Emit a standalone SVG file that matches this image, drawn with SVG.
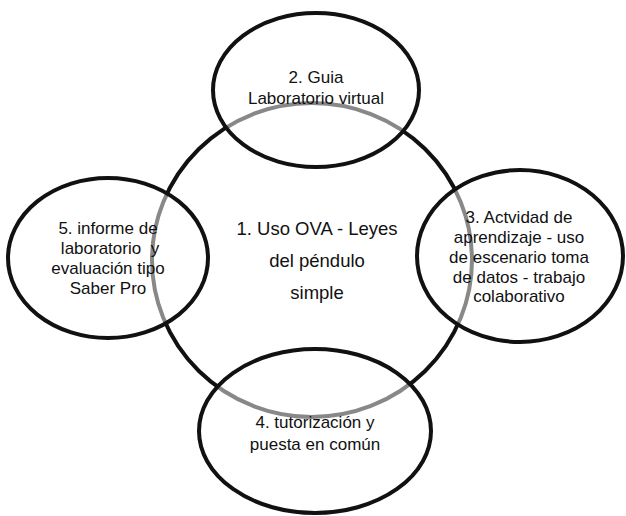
<svg xmlns="http://www.w3.org/2000/svg" width="626" height="516" viewBox="0 0 626 516">
<style>
.ring{fill:none;stroke:#111;stroke-width:4}
.ov{fill:#fff;fill-opacity:0.5;stroke:#111;stroke-width:4}
text{font-family:"Liberation Sans",Arial,sans-serif;font-size:17px;fill:#111;text-anchor:middle}
.big{font-size:18.5px}
</style>
<rect width="626" height="516" fill="#fff"/>
<g id="connectors"></g>
<g id="n1">
<ellipse class="ring" cx="312" cy="260" rx="160" ry="157"/>
</g>
<g id="n2">
<ellipse class="ov" cx="316" cy="90" rx="103" ry="77"/>
<text x="316" y="83">2. Guia</text>
<text x="316" y="104">Laboratorio virtual</text>
</g>
<g id="n5">
<ellipse class="ov" cx="108" cy="258" rx="100" ry="80"/>
<text x="108" y="234">5. informe de</text>
<text x="110" y="254" xml:space="preserve">laboratorio  y</text>
<text x="108" y="274">evaluación tipo</text>
<text x="108" y="294">Saber Pro</text>
</g>
<g id="n3">
<ellipse class="ov" cx="520" cy="256" rx="103" ry="86"/>
<text x="519" y="223">3. Actvidad de</text>
<text x="519" y="243">aprendizaje - uso</text>
<text x="519" y="263">de escenario toma</text>
<text x="519" y="283">de datos - trabajo</text>
<text x="519" y="302">colaborativo</text>
</g>
<g id="n4">
<ellipse class="ov" cx="315" cy="431" rx="116" ry="82"/>
<text x="315" y="428">4. tutorización y</text>
<text x="315" y="450">puesta en común</text>
</g>
<g id="n1text">
<text class="big" x="317" y="235">1. Uso OVA - Leyes</text>
<text class="big" x="317" y="267">del péndulo</text>
<text class="big" x="317" y="299">simple</text>
</g>
</svg>
